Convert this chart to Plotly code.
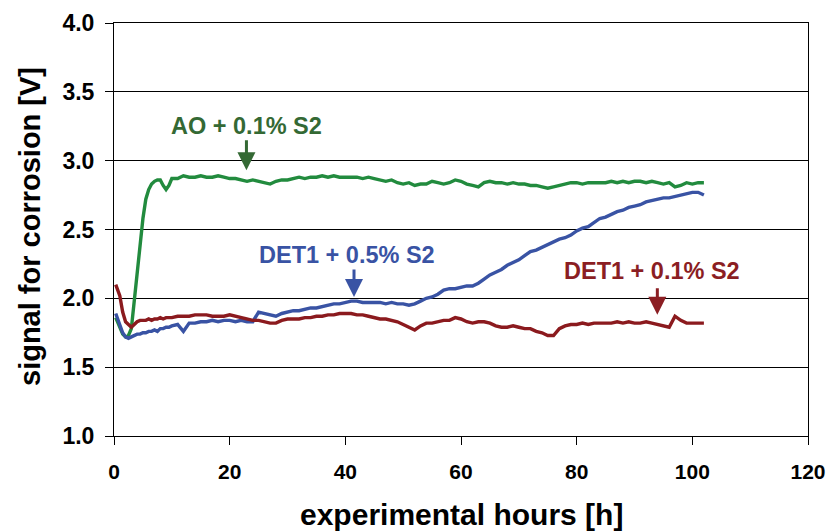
import plotly.graph_objects as go

hours = [0.3, 1, 1.5, 2, 2.5, 3, 3.5, 4, 4.5, 5, 5.5, 6, 6.5, 7, 7.5, 8, 8.5, 9, 9.5, 10] + list(range(11, 103))

ao_01 = [1.86, 1.78, 1.74, 1.72, 1.73, 1.78, 1.98, 2.22, 2.42, 2.58, 2.72, 2.79, 2.83, 2.85, 2.86, 2.86, 2.82, 2.79, 2.82, 2.87,
         2.87, 2.89, 2.88, 2.88, 2.89, 2.88, 2.88, 2.89, 2.88, 2.87, 2.87, 2.86, 2.85, 2.86, 2.85, 2.84, 2.83, 2.85, 2.86, 2.86,
         2.87, 2.88, 2.87, 2.88, 2.88, 2.89, 2.88, 2.89, 2.88, 2.88, 2.88, 2.88, 2.87, 2.88, 2.87, 2.86, 2.85, 2.86, 2.84, 2.83,
         2.84, 2.82, 2.83, 2.83, 2.85, 2.84, 2.83, 2.84, 2.86, 2.85, 2.83, 2.82, 2.81, 2.84, 2.85, 2.84, 2.84, 2.83, 2.84, 2.83,
         2.83, 2.82, 2.82, 2.81, 2.80, 2.81, 2.82, 2.83, 2.84, 2.84, 2.83, 2.84, 2.84, 2.84, 2.84, 2.85, 2.84, 2.85, 2.84, 2.85,
         2.85, 2.84, 2.85, 2.84, 2.83, 2.84, 2.81, 2.82, 2.84, 2.83, 2.84, 2.84]

det1_05 = [1.89, 1.80, 1.75, 1.72, 1.71, 1.72, 1.73, 1.74, 1.74, 1.75, 1.75, 1.76, 1.76, 1.77, 1.76, 1.78, 1.78, 1.79, 1.79, 1.80,
           1.81, 1.76, 1.82, 1.82, 1.83, 1.83, 1.84, 1.83, 1.84, 1.84, 1.83, 1.84, 1.83, 1.83, 1.90, 1.89, 1.88, 1.87, 1.89, 1.90,
           1.91, 1.91, 1.92, 1.93, 1.93, 1.94, 1.95, 1.96, 1.96, 1.97, 1.98, 1.98, 1.97, 1.97, 1.97, 1.97, 1.96, 1.97, 1.96, 1.96,
           1.95, 1.96, 1.98, 2.00, 2.01, 2.03, 2.06, 2.07, 2.07, 2.08, 2.09, 2.09, 2.11, 2.14, 2.17, 2.19, 2.21, 2.24, 2.26, 2.28,
           2.31, 2.34, 2.35, 2.37, 2.39, 2.41, 2.43, 2.44, 2.46, 2.49, 2.51, 2.52, 2.55, 2.58, 2.59, 2.61, 2.63, 2.64, 2.66, 2.67,
           2.68, 2.70, 2.71, 2.72, 2.73, 2.73, 2.74, 2.75, 2.76, 2.77, 2.77, 2.75]

det1_01 = [2.10, 2.02, 1.90, 1.83, 1.81, 1.79, 1.81, 1.83, 1.84, 1.84, 1.84, 1.85, 1.84, 1.85, 1.85, 1.86, 1.85, 1.86, 1.86, 1.86,
           1.87, 1.87, 1.87, 1.88, 1.88, 1.88, 1.87, 1.87, 1.87, 1.88, 1.87, 1.86, 1.85, 1.84, 1.84, 1.83, 1.82, 1.82, 1.84, 1.85,
           1.85, 1.85, 1.86, 1.86, 1.87, 1.87, 1.88, 1.88, 1.89, 1.89, 1.89, 1.88, 1.88, 1.87, 1.86, 1.85, 1.85, 1.84, 1.83, 1.81,
           1.79, 1.77, 1.80, 1.82, 1.82, 1.83, 1.84, 1.84, 1.86, 1.85, 1.83, 1.82, 1.83, 1.83, 1.82, 1.80, 1.79, 1.79, 1.80, 1.79,
           1.78, 1.78, 1.76, 1.75, 1.73, 1.73, 1.78, 1.80, 1.81, 1.81, 1.82, 1.81, 1.82, 1.82, 1.82, 1.82, 1.83, 1.82, 1.83, 1.82,
           1.82, 1.83, 1.82, 1.81, 1.80, 1.79, 1.87, 1.84, 1.82, 1.82, 1.82, 1.82]

x_ticks = [0, 20, 40, 60, 80, 100, 120]
y_ticks = [1.0, 1.5, 2.0, 2.5, 3.0, 3.5, 4.0]

labels = ["AO + 0.1% S2", "DET1 + 0.5% S2", "DET1 + 0.1% S2"]
label_pos = [(22.9, 3.25), (40.3, 2.315), (93.0, 2.195)]
arrow_x = [22.9, 41.5, 93.95]
arrow_tail = [3.16, 2.22, 2.085]
arrow_tip = [2.93, 2.01, 1.88]

FONT = "Liberation Sans, Arial, sans-serif"
line_colors = ["rgb(34,139,62)", "rgb(57,83,164)", "rgb(139,26,30)"]
text_colors = ["rgb(52,105,52)", "rgb(57,83,164)", "rgb(139,30,35)"]

fig = go.Figure()
for ys, c in zip([ao_01, det1_05, det1_01], line_colors):
    fig.add_trace(go.Scatter(x=hours, y=ys, mode="lines",
                             line=dict(color=c, width=3.4), showlegend=False))

anns = []
for lab, (lx, ly), ax_, at, tip, tc in zip(labels, label_pos, arrow_x, arrow_tail, arrow_tip, text_colors):
    anns.append(dict(x=lx, y=ly, text=lab, showarrow=False, xref="x", yref="y",
                     font=dict(family=FONT, size=23.5, color=tc, weight="bold")))
    anns.append(dict(x=ax_, y=tip, ax=ax_, ay=at, axref="x", ayref="y", xref="x", yref="y",
                     text="", showarrow=True, arrowhead=2, arrowsize=1.2, arrowwidth=3,
                     arrowcolor=tc))

# x-axis title placed below the tick labels
anns.append(dict(x=0.5, y=-0.191, xref="paper", yref="paper", xanchor="center", yanchor="middle",
                 text="experimental hours [h]", showarrow=False,
                 font=dict(family=FONT, size=30, color="black", weight="bold")))
# y-axis title
anns.append(dict(x=30, y=227, xref="paper", yref="paper", showarrow=False,
                 text="signal for corrosion [V]", textangle=-90,
                 xanchor="center", yanchor="middle",
                 font=dict(family=FONT, size=29, color="black", weight="bold")))
anns[-1]["x"] = (30 - 114) / 694.0
anns[-1]["y"] = (436 - 227) / 413.0

fig.update_layout(
    width=828, height=532,
    margin=dict(l=114, r=20, t=23, b=96),
    plot_bgcolor="white", paper_bgcolor="white",
    annotations=anns,
    xaxis=dict(range=[0, 120], tickvals=x_ticks, ticktext=[str(v) for v in x_ticks],
               automargin=False,
               showgrid=False, zeroline=False, showline=True, linecolor="black", linewidth=1,
               mirror=True, ticks="outside", ticklen=8, tickcolor="black",
               ticklabelstandoff=9,
               tickfont=dict(family=FONT, size=21, color="black", weight="bold")),
    yaxis=dict(range=[1.0, 4.0], tickvals=y_ticks, ticktext=["%.1f" % v for v in y_ticks],
               automargin=False,
               showgrid=True, gridcolor="black", gridwidth=1, zeroline=False,
               showline=True, linecolor="black", linewidth=1, mirror=True,
               ticks="outside", ticklen=8, tickcolor="black", ticklabelstandoff=6,
               tickfont=dict(family=FONT, size=23, color="black", weight="bold")),
)

fig.write_html("out.html")
